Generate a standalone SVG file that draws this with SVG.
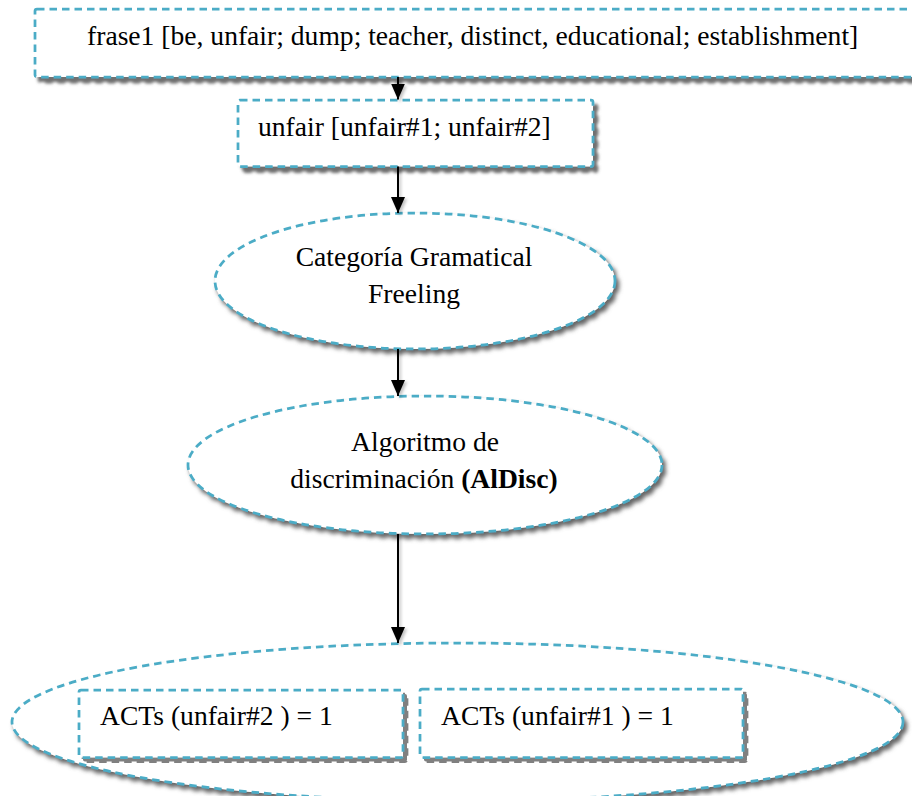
<svg xmlns="http://www.w3.org/2000/svg" width="912" height="796" viewBox="0 0 912 796">
  <style>
    .node { fill: #ffffff; stroke: #4bacc6; stroke-width: 2.75; stroke-dasharray: 7.5 5; }
    .label { font-family: "Liberation Serif", "Times New Roman", "DejaVu Serif", serif; font-size: 27.6px; fill: #000000; }
    .mid { text-anchor: middle; }
    .edge { stroke: #000000; stroke-width: 2; fill: none; marker-end: url(#arrow); }
  </style>
  <defs>
    <filter id="softShadow" x="-5%" y="-10%" width="112%" height="130%">
      <feDropShadow dx="4" dy="5" stdDeviation="1.5" flood-color="#707070" flood-opacity="1"/>
    </filter>
    <filter id="ovalShadow" x="-5%" y="-10%" width="112%" height="130%">
      <feDropShadow dx="3" dy="4" stdDeviation="2" flood-color="#666666" flood-opacity="1"/>
    </filter>
    <filter id="hardShadow" x="-5%" y="-10%" width="112%" height="130%">
      <feDropShadow dx="4" dy="4" stdDeviation="0.3" flood-color="#808080" flood-opacity="1"/>
    </filter>
    <filter id="lineShadow" filterUnits="userSpaceOnUse" x="370" y="60" width="60" height="600">
      <feDropShadow dx="2" dy="2" stdDeviation="1.5" flood-color="#000000" flood-opacity="0.25"/>
    </filter>
    <!-- solid triangular arrowhead, tip at the end of the line -->
    <marker id="arrow" viewBox="0 0 16 14" refX="16" refY="7" markerWidth="16" markerHeight="14" markerUnits="userSpaceOnUse" orient="auto">
      <path d="M0,0 L16,7 L0,14 z" fill="#000000"/>
    </marker>
  </defs>

  <g id="frase1">
    <rect class="node" x="35" y="9" width="900" height="68" rx="2" filter="url(#softShadow)"/>
    <text class="label" x="87" y="45">frase1 [be, unfair; dump; teacher, distinct, educational; establishment]</text>
  </g>

  <g id="unfair">
    <rect class="node" x="238" y="100" width="355" height="66.5" rx="2" filter="url(#softShadow)"/>
    <text class="label" x="258" y="135.5">unfair [unfair#1; unfair#2]</text>
  </g>

  <g id="categoria">
    <ellipse class="node" cx="415" cy="281" rx="200" ry="68" filter="url(#ovalShadow)"/>
    <text class="label mid" x="414" y="265.5">Categoría Gramatical</text>
    <text class="label mid" x="414" y="302.5">Freeling</text>
  </g>

  <g id="aldisc">
    <ellipse class="node" cx="425" cy="465" rx="237" ry="69" filter="url(#ovalShadow)"/>
    <text class="label mid" x="425" y="450.5">Algoritmo de</text>
    <text class="label mid" x="424" y="487.5">discriminación <tspan font-weight="bold">(AlDisc)</tspan></text>
  </g>

  <g id="resultados">
    <ellipse class="node" cx="457.5" cy="722" rx="445.5" ry="79" filter="url(#ovalShadow)"/>
  </g>

  <g id="acts-unfair2">
    <rect class="node" x="79" y="690" width="324" height="67.5" rx="2" filter="url(#hardShadow)"/>
    <text class="label" x="100" y="725">ACTs (unfair#2 ) = 1</text>
  </g>

  <g id="acts-unfair1">
    <rect class="node" x="420" y="689" width="323" height="68.5" rx="2" filter="url(#hardShadow)"/>
    <text class="label" x="441" y="725">ACTs (unfair#1 ) = 1</text>
  </g>

  <g id="connectors" filter="url(#lineShadow)">
    <line class="edge" x1="398" y1="77" x2="398" y2="99.5"/>
    <line class="edge" x1="398" y1="166.5" x2="398" y2="213"/>
    <line class="edge" x1="398" y1="349" x2="398" y2="396"/>
    <line class="edge" x1="398" y1="534" x2="398" y2="643"/>
  </g>
</svg>
